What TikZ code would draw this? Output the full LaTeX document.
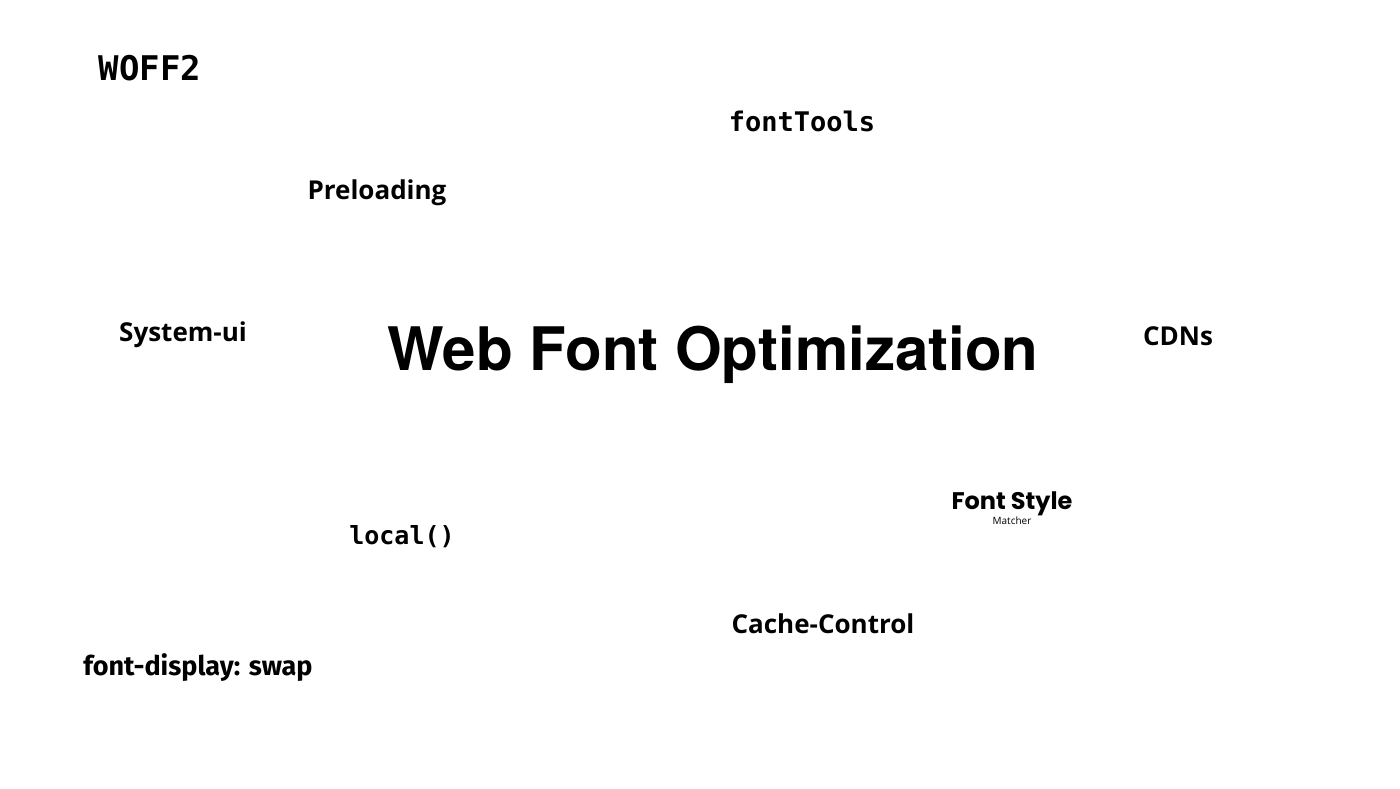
\documentclass[tikz,border=0pt]{standalone}
\usepackage{fontspec}
\setmainfont{Open Sans}
\newfontfamily\monof{DejaVu Sans Mono}
\newfontfamily\titlef{TeX Gyre Heros}
\newfontfamily\poppf{Poppins}
\newfontfamily\firaf{Fira Sans}
\begin{document}
\begin{tikzpicture}[x=1pt,y=-1pt,every node/.style={inner sep=0pt,text=black,align=center}]
\useasboundingbox[fill=white] (0,0) rectangle (1400,788);
\node (woff) at (150,68) {\monof\bfseries\fontsize{34}{38}\selectfont WOFF2};
\node (ft) at (802,121) {\monof\bfseries\fontsize{27}{30}\selectfont fontTools};
\node (pre) at (377,193) {\fontsize{26}{30}\selectfont\bfseries Preloading};
\node (sys) at (183,335) {\fontsize{26}{30}\selectfont\bfseries System-ui};
\node (title) at (713,355) {\titlef\bfseries\fontsize{60}{66}\selectfont Web Font Optimization};
\node (cdn) at (1178,336) {\fontsize{26}{30}\selectfont\bfseries CDNs};
\node (fsm) at (1012,508) {\poppf\bfseries\fontsize{24}{31}\selectfont Font Style\\Matcher};
\node (loc) at (402,537) {\monof\bfseries\fontsize{25}{30}\selectfont local()};
\node (cc) at (823,624) {\fontsize{26}{30}\selectfont\bfseries Cache-Control};
\node (fd) at (198,668) {\firaf\bfseries\fontsize{27}{30}\selectfont font-display: swap};
\end{tikzpicture}
\end{document}
